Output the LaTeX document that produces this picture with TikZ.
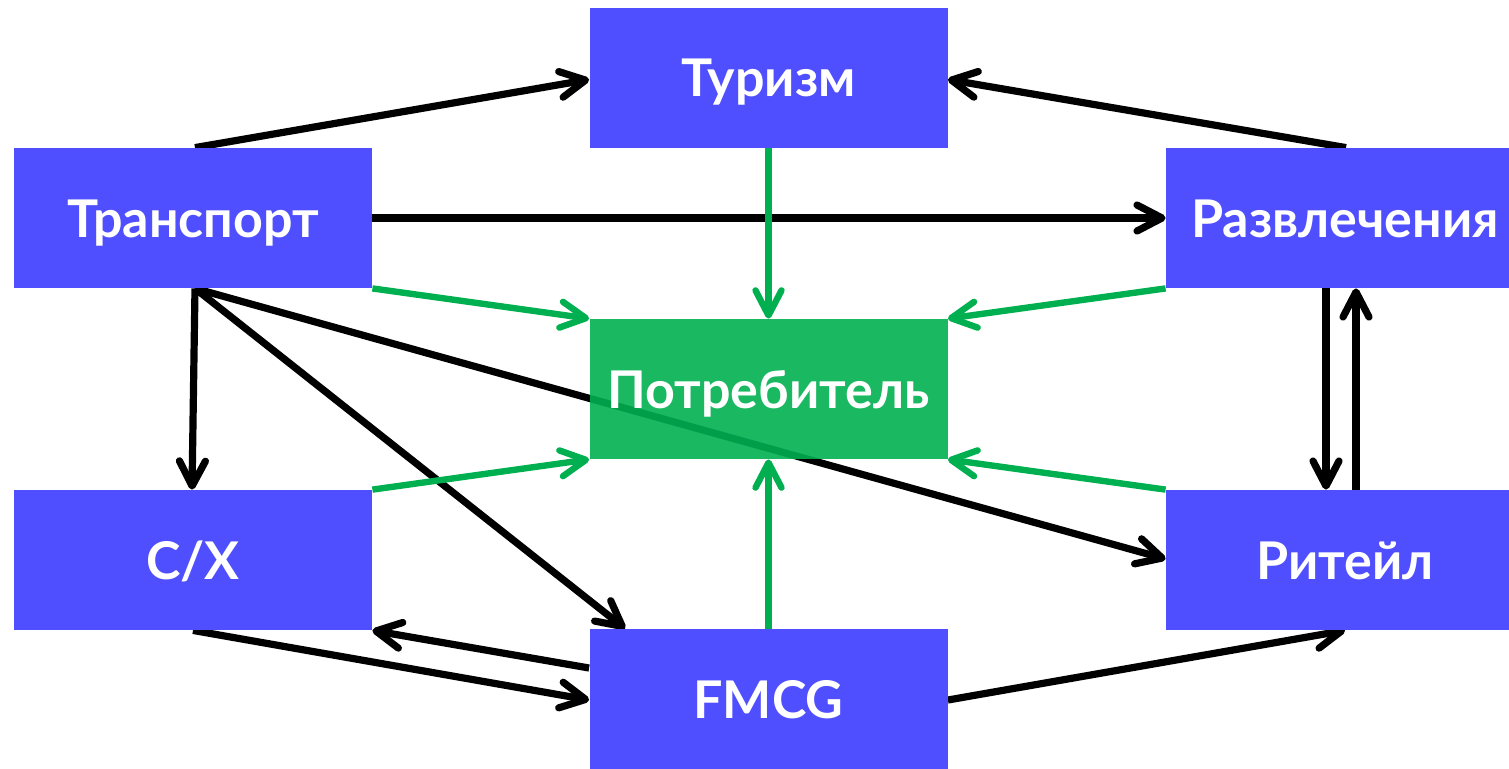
\documentclass[tikz,border=0pt]{standalone}
\usepackage{fontspec}
\setmainfont{Lato}
\usetikzlibrary{arrows.meta,calc}
\definecolor{boxblue}{HTML}{4F4FFF}
\definecolor{officegreen}{HTML}{00B050}
\pgfdeclarelayer{bg}
\pgfsetlayers{bg,main}
\tikzset{
  box/.style={fill=boxblue, minimum width=179pt, minimum height=70pt, inner sep=0pt,
    text=white, font=\bfseries\fontsize{26}{30}\selectfont, text height=19pt, text depth=0pt},
  consumer/.style={box, fill=officegreen, fill opacity=0.9, text opacity=1},
  blk/.style={draw=black, line width=3.6pt, -{Straight Barb[length=12.5pt,width=13pt,round]}},
  grn/.style={draw=officegreen, line width=3.2pt, -{Straight Barb[length=12.5pt,width=13pt,round]}},
}
\begin{document}
\begin{tikzpicture}[x=0.5pt,y=-0.5pt]
\useasboundingbox (0,0) rectangle (1509,768);
\clip (0,0) rectangle (1509,768);
\node[box] (tur) at (768.5,77.5) {Туризм};
\node[box] (tra) at (193,218) {Транспорт};
\node[box] (raz) at (1345,218) {Развлечения};
\node[consumer] (pot) at (768.5,389) {Потребитель};
\node[box] (sx) at (193,560) {С/Х};
\node[box] (rit) at (1345,560) {Ритейл};
\node[box] (fm) at (768.5,699) {FMCG};
\begin{pgfonlayer}{bg}
  \draw[blk] ($(tra.north)+(2,0)$) -- ($(tur.west)+(0,2)$);
  \draw[blk] ($(raz.north)+(1,0)$) -- ($(tur.east)+(0,2)$);
  \draw[blk] (tra.east) -- (raz.west);
  \draw[blk] ($(tra.south)+(2,0)$) -- ($(sx.north)+(-1,0)$);
  \draw[blk] ($(tra.south)+(2,0)$) -- ($(fm.north west)+(36,0)$);
  \draw[blk] ($(tra.south)+(2,0)$) -- ($(rit.west)+(0,-1)$);
  \draw[blk] ($(raz.south)+(-19,0)$) -- ($(rit.north)+(-19,0)$);
  \draw[blk] ($(rit.north)+(11,0)$) -- ($(raz.south)+(11,0)$);
  \draw[blk] (sx.south) -- ($(fm.west)+(0,1)$);
  \draw[blk] ($(fm.west)+(0,-31)$) -- (sx.south east);
  \draw[blk] ($(fm.east)+(0,1)$) -- (rit.south);
  \draw[grn] (tur.south) -- (pot.north);
  \draw[grn] (tra.south east) -- (pot.north west);
  \draw[grn] (raz.south west) -- (pot.north east);
  \draw[grn] (sx.north east) -- (pot.south west);
  \draw[grn] (rit.north west) -- (pot.south east);
  \draw[grn] (fm.north) -- (pot.south);
\end{pgfonlayer}
\end{tikzpicture}
\end{document}
